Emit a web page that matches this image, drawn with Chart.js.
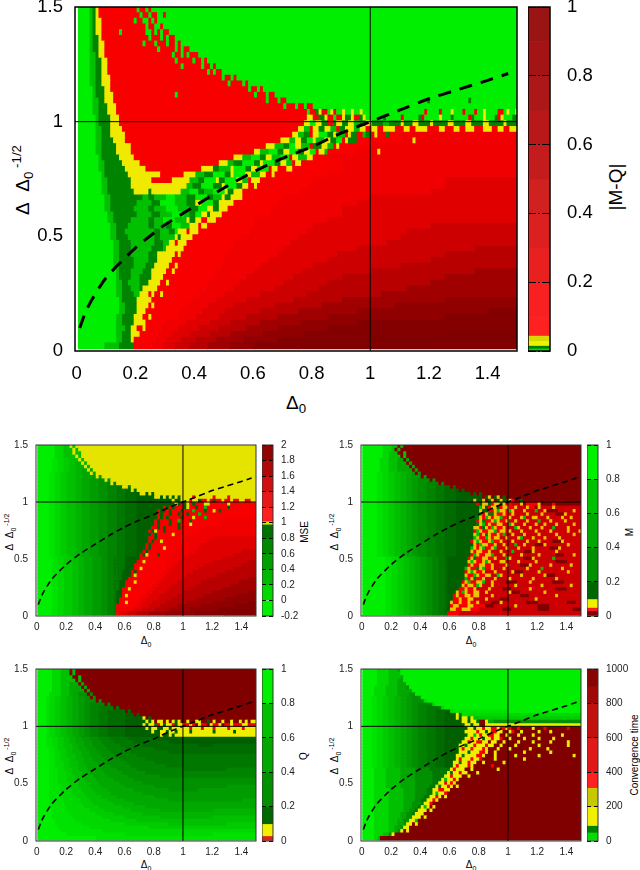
<!DOCTYPE html>
<html>
<head>
<meta charset="utf-8">
<title>Phase diagrams</title>
<script src="https://cdn.jsdelivr.net/npm/chart.js@4"></script>
<style>
    body { margin: 0; background: #fff; width: 640px; height: 870px; overflow: hidden; position: relative; }
    canvas { position: absolute; }
    canvas.soft { filter: blur(0.4px); }
    .lab { position: absolute; font-family: "Liberation Sans", sans-serif; color: #000; white-space: nowrap; transform: translate(-50%, -50%); line-height: 1; }
    .rot { transform: translate(-50%, -50%) rotate(-90deg); }
    .lab sub, .lab sup { font-size: 70%; line-height: 0; }
</style>
</head>
<body>
<div class="lab" style="left:296px;top:402px;font-size:19px">Δ<sub>0</sub></div>
<div class="lab rot" style="left:22px;top:180px;font-size:19px">Δ&nbsp;&nbsp;Δ<sub>0</sub><sup>&nbsp;-1/2</sup></div>
<div class="lab rot" style="left:615px;top:187px;font-size:19px">|M-Q|</div>
<div class="lab" style="left:146px;top:641px;font-size:10px">Δ<sub>0</sub></div>
<div class="lab rot" style="left:10px;top:532px;font-size:10px">Δ&nbsp;&nbsp;Δ<sub>0</sub><sup>&nbsp;-1/2</sup></div>
<div class="lab rot" style="left:305px;top:532px;font-size:10px">MSE</div>
<div class="lab" style="left:471px;top:641px;font-size:10px">Δ<sub>0</sub></div>
<div class="lab rot" style="left:335px;top:532px;font-size:10px">Δ&nbsp;&nbsp;Δ<sub>0</sub><sup>&nbsp;-1/2</sup></div>
<div class="lab rot" style="left:630px;top:532px;font-size:10px">M</div>
<div class="lab" style="left:146px;top:865px;font-size:10px">Δ<sub>0</sub></div>
<div class="lab rot" style="left:10px;top:756px;font-size:10px">Δ&nbsp;&nbsp;Δ<sub>0</sub><sup>&nbsp;-1/2</sup></div>
<div class="lab rot" style="left:304px;top:756px;font-size:10px">Q</div>
<div class="lab" style="left:471px;top:865px;font-size:10px">Δ<sub>0</sub></div>
<div class="lab rot" style="left:335px;top:756px;font-size:10px">Δ&nbsp;&nbsp;Δ<sub>0</sub><sup>&nbsp;-1/2</sup></div>
<div class="lab rot" style="left:635px;top:755px;font-size:10px">Convergence time</div>
<script>
// Axis ticks
const xTicks = [0, 0.2, 0.4, 0.6, 0.8, 1, 1.2, 1.4];
const yTicks = [0, 0.5, 1, 1.5];
const mqBarTicks = [0, 0.2, 0.4, 0.6, 0.8, 1];
const mseBarTicks = [-0.2, 0, 0.2, 0.4, 0.6, 0.8, 1, 1.2, 1.4, 1.6, 1.8, 2];
const timeBarTicks = [0, 200, 400, 600, 800, 1000];

// Dashed curve
const curveX = [0.01, 0.03, 0.05, 0.1, 0.2, 0.3, 0.4, 0.5, 0.6, 0.7, 0.8, 0.9, 1, 1.1, 1.2, 1.3, 1.4, 1.47];
const curveY = [0.1, 0.17, 0.22, 0.32, 0.45, 0.55, 0.63, 0.71, 0.78, 0.84, 0.89, 0.95, 1, 1.05, 1.1, 1.14, 1.18, 1.21];

// Cell classes
const cellColors = {
    G: "#00ee00", p: "#00e300", g: "#00d800", q: "#00cc00", h: "#00c000", s: "#00b400", m: "#00a800", t: "#009c00",
    n: "#009000", u: "#008400", d: "#007800", v: "#006c00", D: "#006000",
    Y: "#eeee00",
    R: "#f80000", a: "#f00000", b: "#e00000", c: "#cc0000", e: "#b80000", f: "#a00000", i: "#900000", j: "#840000", k: "#800000",
};

// Heat maps, one string per row from the top: class letter + column where the run ends
const mqRows = [
    "G4 h5 d6 Y7 R20 G21 R23 G24 R25 G150",
    "G4 h5 d6 Y7 R21 G22 R24 G25 R27 G29 R30 G150",
    "G4 h5 d6 Y8 R19 G20 R22 G24 R25 G26 R27 G150",
    "G4 h5 d6 Y8 R23 G24 R26 G28 R29 G150",
    "G4 h5 d6 Y8 R14 G15 R23 G25 R26 G27 R28 G29 R31 G150",
    "G4 h5 d7 Y8 R24 G25 R28 G29 R30 G31 R33 G150",
    "G4 h5 d7 Y9 R22 G23 R26 G27 R30 G31 R33 G34 R35 G150",
    "G4 h5 d7 Y9 R27 G28 R33 G34 R35 G36 R38 G150",
    "G4 h6 d7 Y9 R32 G33 R35 G36 R37 G38 R41 G150",
    "G4 h6 d8 Y10 R33 G34 R39 G40 R42 G43 R44 G150",
    "G4 h6 d8 Y10 R35 G36 R42 G43 R45 G46 R47 G150",
    "G4 h6 d8 Y10 R44 G45 R46 G47 R49 G150",
    "G4 h6 d8 Y11 R49 G50 R52 G53 R54 G150",
    "G4 h6 d8 Y11 R51 G52 R56 G57 R58 G150",
    "G5 h6 d9 Y11 R58 G59 R61 G62 R63 G150",
    "G5 h6 d9 Y12 R33 G34 R60 G61 R64 G65 R67 G150",
    "G5 h7 d9 Y12 R64 G65 R68 G69 R71 G119 d120 G133 d134 G150",
    "G5 h7 d10 Y13 R70 G71 R74 G75 R77 G78 R80 G150",
    "G5 h7 d10 Y13 R78 G79 R81 d82 Y83 R85 G86 Y87 R88 G90 Y91 G93 Y94 G96 Y97 G118 R119 G123 R124 G127 Y128 G131 R132 G135 R136 G138 Y139 G143 R145 G146 Y147 G149 Y150",
    "G6 h7 d11 Y14 R78 Y80 R82 d84 Y85 R87 G88 R90 Y91 d93 Y94 R96 d97 Y98 G104 d105 G110 R111 G116 d117 R118 G123 Y124 G127 d128 G133 R134 d135 G138 Y139 G142 d143 R144 Y145 G148 d150",
    "G6 h7 d11 Y14 R77 Y79 G81 Y83 d85 R87 d88 Y90 d92 Y94 h96 d98 Y100 d104 h106 d110 Y111 d114 Y116 d120 Y121 d126 Y128 d132 Y134 d138 Y140 d145 Y146 d150",
    "G6 h8 d11 Y15 R75 Y77 h79 R80 Y82 d84 Y86 h88 R89 d91 Y94 h96 Y98 R100 Y102 R104 Y108 R111 Y113 R115 Y119 R123 Y125 R128 Y130 R132 Y135 R138 Y141 R143 Y145 R147 Y150",
    "G6 h8 d11 Y16 R73 Y75 h77 d79 R80 Y82 G85 d87 Y88 h91 R92 Y93 d95 R97 h98 d100 R101 Y102 R105 d106 R110 a150",
    "G6 h8 d12 Y16 R69 Y72 h74 Y76 d78 G80 Y81 h84 Y86 d88 G90 R91 Y92 d95 R110 a114 Y115 a150",
    "G6 h8 d13 Y18 R64 Y67 h70 d72 G74 Y76 h79 R80 d83 Y85 h87 R88 Y89 R100 a150",
    "G6 h8 d13 Y18 R60 Y62 h65 G68 d70 Y72 G75 d77 Y79 G81 R82 Y84 h85 R95 a102 Y103 a150",
    "G7 h8 d14 Y19 R53 Y56 h59 G62 d64 Y66 h69 G72 R73 Y75 h78 Y80 R85 a150",
    "G7 h9 d15 Y21 R48 Y51 h53 d56 G60 d62 Y63 G67 d69 Y71 h73 R74 Y76 R90 a150",
    "G7 h9 d16 Y23 R42 Y46 d48 h52 Y53 G57 d59 Y61 G65 R66 Y68 R71 Y73 R90 a150",
    "G8 h9 d17 Y28 R36 Y40 h43 d46 G50 d52 Y53 G57 Y59 h62 Y64 R66 Y67 R85 a150",
    "G8 h10 d18 Y25 R32 Y38 h41 d43 G47 Y48 d50 G54 Y56 h58 R59 Y62 R80 a125 b150",
    "G8 h10 d18 Y37 h39 d42 G46 d49 Y50 G54 d56 Y58 R60 Y61 R78 a125 b150",
    "G8 h10 d19 Y24 d25 Y35 h38 G41 d43 h46 G50 Y51 d53 Y56 R75 a120 b150",
    "G9 h11 d22 h24 d26 h30 G33 h37 d40 G44 d46 h49 Y50 d52 Y56 R70 a100 b150",
    "G9 h11 d20 h25 d28 G33 h37 d40 Y42 G46 d48 Y53 R68 a95 b150",
    "G9 h11 d19 h24 d26 h30 G34 h38 d41 G44 Y46 d48 Y51 R66 a90 b150",
    "G10 h12 d20 h25 d28 h32 G36 h38 d40 G42 Y44 d45 Y49 R65 a90 b150",
    "G10 h12 d18 h24 d26 h29 G33 h37 Y38 d40 Y42 R44 Y47 R60 a85 b150",
    "G11 h13 d17 h24 d26 h30 d32 G35 h38 Y41 R42 Y44 R60 a80 b120 c150",
    "G11 h13 d16 h26 d28 h31 d33 G34 Y37 R38 Y41 R58 a78 b112 c150",
    "G11 h13 d17 h26 d28 h33 Y34 d35 Y39 R55 a75 b110 c150",
    "G12 h14 d18 h26 d29 h31 Y33 R34 Y37 R53 a72 b105 c150",
    "G12 h14 d18 h25 d29 h30 Y36 R52 a70 b95 c135 e150",
    "G12 h14 d18 h24 d27 Y33 R34 Y35 R51 a68 b88 c125 e150",
    "G12 h14 d19 h24 d27 Y32 R50 a65 b85 c120 e150",
    "G12 h14 d19 h23 d26 Y31 R33 Y34 R49 a62 b80 c110 e150",
    "G13 h14 d18 h22 d25 Y30 R32 Y33 R47 a60 b76 c100 e135 f150",
    "G13 h14 d18 h21 d25 Y29 R46 a57 b73 c90 e125 f150",
    "G13 h15 d17 h21 d24 Y28 R30 Y31 R44 a55 b70 c85 e120 f150",
    "G13 h15 d18 h21 d22 Y27 R43 a53 b67 c82 e112 f150",
    "G13 h15 d19 h21 Y24 R25 Y26 R28 Y29 R41 a50 b62 c78 e103 f150",
    "G14 h15 d20 Y25 R39 a47 b57 c73 e90 f125 i150",
    "G14 h16 d20 Y24 R25 Y26 R37 a44 b53 c67 e83 f108 i150",
    "G14 h16 d20 Y23 R35 a42 b50 c62 e75 f95 i140 j150",
    "G13 h15 d19 Y22 R24 Y25 R34 a40 b48 c57 e68 f85 i125 j150",
    "G13 h15 d19 Y23 R30 a37 b45 c52 e62 f76 i95 j150",
    "G13 h16 d18 Y20 R22 Y23 R28 a34 b41 c48 e57 f68 i85 j150",
    "G13 h15 d18 Y21 R27 a32 b38 c45 e52 f63 i77 j125 k150",
    "G13 h15 d18 Y19 R26 a30 b35 c40 e47 f56 i68 j100 k150",
    "G9 h14 d19 R25 a29 b33 c38 e44 f52 i60 j75 k150",
];

// Shared left part of the green gradient in the small panels
const mseA = "G4 p6 g8 q10 h13 s15 m18 t21 n24 u27 d30 v34";
const mseB = "G5 p7 g9 q12 h14 s16 m19 t22 n24 u26 d27";
const mA = "G5 p7 g9 q11 h13 s15 m17 t19 n22 u25 d28 v32";
const mB = "G8 p10 g12 q14 h16 s18 m20 t22 n24 u26 d28 v29";
const qA = "G3 p4 g6 q8 h10 s12 m14 t16 n18 u21 d24 v30";
const tA = "G3 p5 g7 q9 h11 s13 m15 t17 n19 u22 d25 v28";

const mseRows = [
    "G6 g9 h11 Y12 h13 Y75",
    "G6 g9 h12 Y13 h14 Y75",
    "G6 g9 h12 Y13 h15 Y75",
    "G6 g9 h13 Y14 h15 Y75",
    "G5 p7 g9 q11 h14 Y15 h16 Y75",
    "G5 p7 g9 q11 h13 s15 Y16 s17 Y75",
    "G5 p7 g9 q11 h13 s16 Y17 s18 Y75",
    "G5 p7 g9 q11 h13 s15 m17 Y18 m19 Y75",
    "G4 p6 g8 q10 h13 s15 m18 Y19 m20 Y75",
    "G4 p6 g8 q10 h13 s15 m18 t20 Y21 t22 Y75",
    "G4 p6 g8 q10 h13 s15 m18 t21 n23 Y24 n25 Y75",
    "G4 p6 g8 q10 h13 s15 m18 t21 n24 u25 Y26 u27 Y75",
    "G4 p6 g8 q10 h13 s15 m18 t21 n24 u27 d29 Y31 d32 Y75",
    "G4 p6 g8 q10 h13 s15 m18 t21 n24 u27 d30 v32 Y33 v34 Y75",
    `${mseA} D35 Y37 D38 Y39 D40 Y75`,
    `${mseA} D40 Y42 D43 Y44 D45 Y46 D47 Y48 D49 Y53 R54 Y60 R61 Y65 R66 Y75`,
    `${mseA} D46 Y47 D49 Y52 R53 Y55 D56 R58 Y59 R60 D61 R63 Y64 R66 Y67 R69 Y71 R73 Y75`,
    `${mseA} D47 Y48 D49 R50 D51 Y52 R53 D54 R57 Y59 R65 Y66 R75`,
    `${mseA} D43 R44 D45 R46 D47 R50 D51 Y52 R54 D55 R57 h58 R65 D66 R75`,
    `${mseA} D41 R42 D44 R45 D46 R49 D50 R53 h54 R57 D58 R60 Y61 R62 D63 R75`,
    `${mseA} D41 R42 D43 R45 D46 R48 D49 R51 D52 R55 h56 R75`,
    `${mseA} D41 R42 D43 R44 D45 R49 D50 R53 Y54 R57 h58 R75`,
    `${mseA} D40 R41 D42 R45 D46 R48 h49 R52 D53 R63 a75`,
    `${mseA} D40 R41 D42 R45 D46 R48 D49 R52 Y53 R62 a75`,
    `${mseA} D39 R41 D42 R43 D44 R48 D49 R56 a75`,
    `${mseA} D38 R39 D40 Y41 R43 D44 R55 a75`,
    `${mseA} D39 R40 D41 R46 Y47 R52 a75`,
    `${mseA} D38 R40 D41 R50 a60 b75`,
    `${mseA} D38 R39 D40 R42 Y43 R50 a58 b75`,
    `${mseA} D37 R38 D39 R49 a56 b75`,
    `${mseA} D37 R38 D39 R43 Y44 R48 a55 b75`,
    `${mseA} D36 R37 D38 R47 a54 b70 c75`,
    `${mseA} D35 R36 D37 Y38 R41 D42 R46 a52 b67 c75`,
    `${mseB} d30 D35 R45 a50 b63 c75`,
    `${mseB} d30 D34 R36 Y37 R45 a48 b60 c72 e75`,
    `${mseB} d30 D33 R44 a47 b57 c70 e75`,
    `${mseB} d30 D33 R35 Y36 R44 a46 b55 c67 e75`,
    `${mseB} d29 D32 R33 D34 R43 a45 b53 c64 e75`,
    `${mseB} d29 D32 R33 Y34 R42 a44 b51 c61 e75`,
    `${mseB} d29 D31 R41 a43 b50 c58 e72 f75`,
    `${mseB} d28 D30 R33 Y34 R40 a42 b48 c56 e69 f75`,
    `${mseB} d28 D30 R39 a41 b46 c54 e66 f75`,
    `${mseB} d28 D29 R31 Y32 R38 a40 b45 c52 e63 f75`,
    `${mseB} d27 D29 R37 a39 b44 c50 e60 f72 i75`,
    `${mseB} d27 D29 R30 Y31 R36 a38 b42 c48 e57 f68 i75`,
    `${mseB} d27 D28 R35 a37 b41 c46 e54 f64 i75`,
    `${mseB} d26 D28 R30 Y31 R34 a36 b39 c44 e51 f60 i72 j75`,
    `${mseB} d26 D27 R33 a35 b38 c42 e48 f56 i67 j75`,
    `${mseB} d26 D27 R29 a33 b36 c40 e45 f52 i62 j75`,
    `${mseB} d25 D27 R28 b31 c34 e38 f44 i54 j64 k75`,
];

const mRows = [
    "G7 g10 h12 k13 h14 k75",
    "G7 g10 h11 k12 h13 k75",
    "G7 g9 h12 k14 h15 k75",
    "G7 g9 h13 k14 h15 k75",
    "G6 g9 h12 m14 k15 m16 k75",
    "G6 g9 h12 m15 k16 m17 k75",
    "G6 g9 h12 m16 k17 m18 k75",
    "G6 g9 h12 m17 k18 m19 k75",
    "G5 p7 g9 q11 h13 s15 m17 t18 k19 t20 k75",
    "G5 p7 g9 q11 h13 s15 m17 t20 k21 t22 k75",
    "G5 p7 g9 q11 h13 s15 m17 t19 n23 k24 n25 k75",
    "G5 p7 g9 q11 h13 s15 m17 t19 n22 u26 k27 u28 k75",
    "G5 p7 g9 q11 h13 s15 m17 t19 n22 u25 d28 v30 k31 v32 k75",
    `${mA} D33 k34 D35 k75`,
    `${mA} D37 k38 D39 k40 D41 k75`,
    `${mA} D41 k42 D43 Y44 k45 D46 Y47 k48 D49 k75`,
    `${mA} D38 Y39 D41 Y42 k43 D44 Y45 k46 D47 Y48 D50 Y51 R52 k54 D55 k75`,
    `${mA} D39 R40 D41 Y43 D44 R45 Y47 D48 Y49 R51 c54 Y55 k56 R60 Y61 k65 R66 k75`,
    `${mA} D40 h41 Y42 D43 R44 Y46 D47 R48 Y50 R52 Y53 c56 Y57 R59 k60 Y61 c65 Y66 c75`,
    `${mA} D40 Y41 D43 R45 Y46 h47 Y49 R50 h51 Y52 c55 Y56 c59 h60 c62 Y63 k67 c72 Y73 c75`,
    `${mA} D40 h41 R42 Y43 d45 Y46 R48 Y49 R51 Y52 c56 Y57 c61 Y62 c66 k69 Y70 c75`,
    `${mA} D39 d40 Y41 R42 h43 Y44 R45 Y47 h48 R50 Y51 c54 Y55 h56 c58 Y60 c63 Y64 c68 Y69 c71 Y72 c75`,
    `${mA} D39 R40 Y41 d42 R44 Y45 h46 Y47 R49 Y50 c52 Y53 c56 Y57 c60 h61 c64 Y65 c69 Y70 c75`,
    `${mA} D39 d40 Y41 h42 R43 Y44 R46 Y48 c50 h51 Y52 c55 Y56 c59 Y60 c62 Y63 c66 Y67 c72 Y73 c75`,
    `${mA} D38 Y40 R41 d42 Y43 R44 h45 Y46 R48 Y49 c52 h53 Y54 c57 Y58 c61 Y62 c65 h66 c70 Y71 c75`,
    `${mA} D38 R39 h40 Y41 R43 Y45 h46 R47 Y49 c50 Y51 c54 Y55 c59 Y60 c64 Y65 c70 Y71 c74 Y75`,
    `${mA} D38 Y39 h40 R41 Y42 d43 Y44 R46 Y47 R48 h49 c51 Y52 c55 Y56 c60 Y61 c66 Y67 c72 Y73 c75`,
    `${mA} D38 h39 Y40 R42 h43 Y44 R45 Y47 c49 Y50 c53 Y54 h55 c58 Y59 c62 Y63 c67 Y68 c75`,
    `${mA} D37 R38 Y39 h40 Y41 R43 Y44 h45 R47 Y48 c51 Y52 c56 Y57 c60 Y61 c65 k68 Y69 c75`,
    `${mA} D38 Y39 R40 h41 Y43 R45 Y46 c48 Y49 c52 h53 c55 Y56 c59 k62 Y63 c70 Y71 c75`,
    `${mA} D37 h38 Y39 R40 Y41 h42 R44 Y45 h46 c49 Y50 c53 Y54 c58 Y59 c64 k67 Y68 c75`,
    `${mA} D37 Y38 R39 Y41 R43 Y44 c47 Y48 c51 h52 c55 k58 Y59 c66 Y67 c75`,
    `${mA} D37 R38 h39 Y40 R42 Y44 h45 c48 Y49 c54 Y55 c60 Y61 c66 k69 c72 Y73 c75`,
    `${mB} D36 R37 Y38 d39 R41 Y43 R45 Y46 c49 h50 Y51 c55 k58 Y59 c65 h66 c75`,
    `${mB} D36 Y37 h38 Y39 R41 Y42 h43 Y44 c47 Y49 c53 Y54 c59 Y60 c66 k70 c75`,
    `${mB} D36 R37 Y38 R40 Y42 R44 Y45 c49 Y50 c54 k57 Y58 c64 Y65 c71 Y72 c75`,
    `${mB} D35 h36 Y37 R39 d40 Y41 h42 R44 Y45 c48 Y49 c56 Y57 c61 h62 c68 Y69 c75`,
    `${mB} D35 R36 Y37 h38 Y39 R41 Y42 c45 Y46 c51 Y52 k55 c60 Y61 c70 Y71 c75`,
    `${mB} D35 Y36 R38 h39 Y40 R42 Y44 c46 h47 Y48 c54 Y55 c62 Y63 k66 c75`,
    `${mB} D35 h36 R37 Y38 d39 R41 Y42 c45 Y46 c50 Y51 c58 Y59 c66 Y67 c75`,
    `${mB} D34 R35 Y36 h37 R39 Y41 h42 c44 Y45 c49 k53 c57 Y58 c65 k69 c75`,
    `${mB} D34 Y35 R36 Y38 R39 h40 Y41 c44 Y45 c52 Y53 c61 Y62 c71 Y72 c75`,
    `${mB} D33 R35 Y36 R38 Y39 c43 Y44 c48 k51 c57 Y58 c66 k70 c75`,
    `${mB} D32 Y33 R34 h35 Y36 R38 Y40 c42 Y43 c50 Y51 k54 c62 Y63 c75`,
    `${mB} D31 R32 Y33 R35 Y37 R38 Y40 c44 Y45 c54 k57 c66 Y67 c75`,
    `${mB} D31 R33 Y34 R36 Y38 c42 Y43 c47 k50 c59 Y60 c75`,
    `${mB} D30 Y31 R33 Y34 R36 Y37 R39 Y40 c44 k47 Y48 c56 k60 c70 k73 c75`,
    `${mB} D30 R31 Y33 R36 Y38 R42 k45 c52 Y53 c60 k64 c75`,
    `${mB} D30 Y32 R34 Y37 R40 c48 k51 c60 k64 c72 k75`,
    `${mB} D29 R33 c75`,
];

const qRows = [
    "G5 g8 h11 k12 h13 k75",
    "G5 g8 h11 k12 h13 k75",
    "G5 g8 h12 k14 h15 k75",
    "G5 g8 h13 k14 h15 k75",
    "G5 g8 h11 m14 k15 m16 k75",
    "G5 g8 h11 m15 k16 m17 k75",
    "G5 g8 h11 m16 k17 m18 k75",
    "G4 g8 h11 m14 n17 k18 n19 k75",
    "G3 p4 g6 q8 h10 s12 m14 t16 n18 k19 n20 k75",
    "G3 p4 g6 q8 h10 s12 m14 t16 n20 k21 n22 k75",
    "G3 p4 g6 q8 h10 s12 m14 t16 n18 u23 k24 u25 k75",
    "G3 p4 g6 q8 h10 s12 m14 t16 n18 u21 d26 k27 d28 k75",
    `${qA} k31 v32 k75`,
    `${qA} D33 k34 D35 k75`,
    `${qA} D36 Y37 k38 D39 k75`,
    `${qA} D37 Y38 D39 Y40 k41 Y43 k44 Y45 k46 Y47 D48 Y49 k51 Y52 k54 Y56 k58 D59 k60 Y61 k63 Y64 k66 Y67 k69 Y70 k71 Y72 k73 Y75`,
    `${qA} D36 Y37 D38 Y40 d41 R42 Y43 D44 Y46 R47 D48 Y50 R52 Y53 R54 k55 Y56 R58 k59 Y60 R62 Y63 k64 R66 Y67 R70 Y72 R75`,
    `${qA} D37 Y38 D39 Y41 D43 Y45 D46 Y52 R53 Y56 R57 Y60 R61 Y65 R66 Y70 R71 Y75`,
    `${qA} D39 Y40 D42 Y44 D45 Y47 D48 Y52 D53 Y60 D61 Y67 D68 Y75`,
    `${qA} D42 Y43 D45 Y46 D47 Y75`,
    "G3 p5 g7 q9 h11 s13 m15 t18 n21 u25 d31 v40 D75",
    "G3 p5 g7 q9 h11 s13 m16 t19 n22 u26 d33 v45 D75",
    "G3 p5 g7 q9 h12 s14 m16 t19 n23 u28 d36 v55 D60 v75",
    "G4 p6 g7 q10 h12 s14 m17 t20 n24 u30 d40 v75",
    "G4 p6 g8 q10 h12 s15 m18 t21 n25 u32 d45 v75",
    "G4 p6 g8 q10 h13 s15 m18 t22 n26 u34 d75",
    "G4 p6 g8 q11 h13 s16 m19 t23 n28 u37 d75",
    "G4 p6 g9 q11 h14 s16 m20 t24 n30 u40 d75",
    "G4 p6 g9 q11 h14 s17 m21 t25 n32 u44 d75",
    "G4 p7 g9 q12 h14 s17 m22 t27 n34 u50 d65 u75",
    "G4 p7 g10 q12 h15 s18 m23 t29 n37 u75",
    "G4 p7 g10 q13 h15 s19 m24 t31 n42 u75",
    "G4 p7 g10 q13 h16 s20 m26 t33 n75",
    "G4 p7 g11 q14 h17 s21 m28 t36 n75",
    "G4 p8 g11 q14 h18 s22 m30 t40 n65 t75",
    "G4 p8 g12 q15 h19 s24 m33 t45 n55 t75",
    "G4 p8 g12 q16 h20 s25 m36 t75",
    "G4 p8 g13 q17 h22 s27 m40 t75",
    "G4 p9 g14 q18 h24 s30 m45 t70 m75",
    "G4 p9 g15 q19 h26 s33 m75",
    "G4 p10 g16 q21 h29 s37 m75",
    "G5 p10 g18 q23 h32 s42 m60 s75",
    "G5 p11 g20 q26 h36 s75",
    "G5 p12 g22 q30 h42 s60 h75",
    "G6 p13 g25 q34 h75",
    "G6 p15 g30 q45 h65 q75",
    "G7 p18 g38 q75",
    "G8 p22 g75",
    "G10 p30 g60 p75",
    "G20 p75",
];

const timeRows = [
    "G5 g9 h12 m13 G75",
    "G5 g9 h13 G75",
    "G5 g9 h13 m14 G75",
    "G5 g9 h12 m14 G75",
    "G5 g9 h12 m15 G75",
    "G4 g8 h12 m15 n16 G75",
    "G4 g8 h12 m17 G75",
    "G4 g8 h12 m16 n18 G75",
    "G3 p5 g7 q9 h11 s13 m15 t17 n20 G75",
    "G3 p5 g7 q9 h11 s13 m15 t17 n21 g22 G75",
    "G3 p5 g7 q9 h11 s13 m15 t17 n19 u24 g25 G75",
    "G3 p5 g7 q9 h11 s13 m15 t17 n19 u22 d27 g28 G75",
    `${tA} D30 g31 p50 G75`,
    `${tA} D32 Y33 d34 p36 g75`,
    `${tA} D32 Y33 D34 Y36 d37 Y38 h40 q75`,
    `${tA} D34 Y36 D37 Y39 d40 k42 Y43 m45 n75`,
    `${tA} D35 Y37 D38 Y40 k42 Y75`,
    `${tA} D36 Y38 D39 Y41 R42 Y44 R46 Y47 R49 Y50 R51 k53 R54 k58 Y59 k62 R63 k70 R71 k75`,
    `${tA} D35 Y39 R40 Y42 D43 Y44 R46 Y48 k50 Y51 R52 k54 Y55 k60 Y61 k64 Y65 k75`,
    `${tA} D36 Y38 h39 Y40 R41 Y43 R45 Y47 k49 Y50 k53 Y54 k58 Y59 k68 Y69 k75`,
    `${tA} D35 Y37 R38 Y41 D42 Y44 R45 Y47 R48 k50 Y51 k55 Y56 k60 Y61 k65 Y66 k75`,
    `${tA} D34 Y36 R37 Y39 R41 Y43 k44 Y46 k48 Y49 k53 Y54 k58 Y59 k64 Y65 k70 Y71 k75`,
    `${tA} D33 Y35 d36 Y38 R39 Y42 R43 Y45 k47 Y48 k52 Y53 k60 Y61 k70 Y71 k75`,
    `${tA} D33 Y34 R35 Y37 R38 Y41 R42 Y43 k46 Y47 k50 Y51 k57 Y58 k63 Y64 k75`,
    `${tA} D33 Y36 D37 Y40 R42 Y43 k45 Y46 k55 Y56 k64 Y65 k75`,
    `${tA} D32 Y34 d35 Y39 R41 Y42 k45 Y46 k52 Y53 k60 Y61 k72 Y73 k75`,
    `${tA} D32 Y33 R34 Y37 R38 Y40 R41 k45 Y46 k55 Y56 k75`,
    `${tA} D31 Y33 d34 Y36 R37 Y39 k41 Y42 k48 Y49 k75`,
    `${tA} D31 Y32 R33 Y36 R37 Y38 k44 R45 k75`,
    "G4 g8 h13 m18 n23 d30 Y31 R32 Y35 k37 Y38 k46 Y47 k75",
    "G4 g8 h13 m18 n24 d29 Y30 d31 Y33 R34 Y36 k39 Y40 k75",
    "G4 g8 h13 m18 n24 d28 Y30 R31 Y34 k36 Y37 k75",
    "G4 g8 h13 m18 n24 d27 Y28 h29 Y31 R32 Y33 k75",
    "G4 g8 h13 m18 n24 d26 Y28 R29 Y30 R31 Y32 k75",
    "G4 g8 h13 m18 n23 d25 Y26 d27 Y29 R30 Y31 k32 Y33 k75",
    "G4 g9 h14 m18 n22 d24 Y26 R28 Y30 k75",
    "G4 g9 h14 m18 n22 d24 Y25 h26 Y28 R29 k75",
    "G4 g9 h14 m18 n21 d23 Y25 R26 Y27 k28 Y29 k75",
    "G4 g9 h14 m18 n20 d22 Y24 R25 Y26 k75",
    "G4 g9 h14 m17 n20 d21 Y23 R24 k75",
    "G4 g9 h14 m17 n19 d20 Y21 h22 Y23 k24 Y25 k75",
    "G4 g9 h14 m16 n18 d19 Y22 k23 Y24 k75",
    "G4 g9 h13 m15 n17 d18 Y21 k75",
    "G4 g9 h13 m15 n17 Y20 k21 Y22 k75",
    "G4 g9 h12 m14 n16 Y18 h19 k75",
    "G4 g9 h12 m14 n15 Y17 k18 Y19 k75",
    "G4 g9 h11 m13 n14 Y16 k75",
    "G4 g9 h11 m12 n13 Y14 k15 Y16 k75",
    "G4 g7 h9 n10 Y11 k75",
    "G4 g5 h6 k75",
];

// Colour bars: [low, high, colour]
const mqBar = [
    [0, 0.008, "#00e000"], [0.008, 0.016, "#008000"], [0.016, 0.03, "#f0f000"], [0.03, 0.045, "#d8d800"],
    [0.045, 0.1, "#ff2020"], [0.1, 0.2, "#f82020"], [0.2, 0.3, "#e82020"], [0.3, 0.4, "#dc2020"], [0.4, 0.5, "#d02020"],
    [0.5, 0.6, "#c41c1c"], [0.6, 0.7, "#b81818"], [0.7, 0.8, "#ac1818"], [0.8, 0.9, "#a41414"], [0.9, 1, "#9a1414"],
];
const mseBar = [
    [-0.2, 0, "#00f000"], [0, 0.2, "#00d800"], [0.2, 0.4, "#00b800"], [0.4, 0.6, "#00a000"], [0.6, 0.8, "#008800"], [0.8, 0.98, "#007000"],
    [0.98, 1.02, "#e0e000"],
    [1.02, 1.2, "#ff2020"], [1.2, 1.4, "#e81818"], [1.4, 1.6, "#d01010"], [1.6, 1.8, "#b00808"], [1.8, 2, "#900404"],
];
const mBar = [
    [0, 0.03, "#800000"], [0.03, 0.05, "#f02020"], [0.05, 0.1, "#f0f000"],
    [0.1, 0.2, "#006800"], [0.2, 0.4, "#009000"], [0.4, 0.6, "#00a800"], [0.6, 0.8, "#00c000"], [0.8, 1, "#00f000"],
];
const qBar = [
    [0, 0.03, "#e02020"], [0.03, 0.1, "#f0f000"],
    [0.1, 0.2, "#006800"], [0.2, 0.4, "#009000"], [0.4, 0.6, "#00a800"], [0.6, 0.8, "#00c000"], [0.8, 1, "#00f000"],
];
const timeBar = [
    [0, 50, "#00e000"], [50, 90, "#008000"], [90, 200, "#f0f000"], [200, 310, "#c8c800"],
    [310, 400, "#ff2020"], [400, 600, "#e01818"], [600, 800, "#c01010"], [800, 900, "#a00808"], [900, 1000, "#880404"],
];

const X_MIN = -0.006, X_MAX = 1.5, Y_MAX = 1.5;
const FONT = "'Liberation Sans', sans-serif";

Chart.defaults.animation = false;
Chart.defaults.plugins.legend.display = false;
Chart.defaults.plugins.tooltip.enabled = false;
Chart.defaults.font.family = FONT;

const framePlugin = {
    id: "frame",
    afterDraw(chart, args, opts) {
        let a = chart.chartArea, ctx = chart.ctx;
        ctx.save();
        ctx.strokeStyle = opts.color;
        ctx.lineWidth = opts.width;
        ctx.strokeRect(a.left, a.top, a.width, a.height);
        ctx.restore();
    },
};

function addCanvas(left, top, width, height, soft) {
    let canvas = document.createElement("canvas");
    canvas.width = width;
    canvas.height = height;
    canvas.style.left = left + "px";
    canvas.style.top = top + "px";
    if (soft) canvas.className = "soft";
    document.body.appendChild(canvas);
    return canvas;
}

// The scale's label overhang would otherwise move the plot edges
function noOverhang(s) {
    s.paddingTop = s.paddingBottom = s.paddingLeft = s.paddingRight = 0;
}

// Expand run strings into floating bars
function rowsToBars(rows, colStep, palette) {
    let rowStep = (Y_MAX - 0.01) / rows.length;
    let data = [], colors = [];
    rows.forEach((row, r) => {
        let prev = 0;
        let y = Y_MAX - (r + 0.5) * rowStep;
        row.split(" ").forEach(token => {
            let end = parseInt(token.slice(1));
            if (end > prev) {
                data.push({x: [0.005 + prev * colStep, 0.005 + end * colStep], y: y});
                colors.push(palette[token[0]]);
                prev = end;
            }
        });
    });
    return {data, colors};
}

function heatPanel(p) {
    let canvas = addCanvas(p.left, p.top, p.width, p.height, p.soft);
    let bars = rowsToBars(p.rows, p.colStep, {...cellColors, ...p.colors});
    let curve = curveX.map((x, i) => ({x: x, y: curveY[i]}));
    let fmt = v => String(v);
    new Chart(canvas, {
        type: "bar",
        data: {
            datasets: [
                {type: "line", order: 0, data: curve, borderColor: "#000", borderWidth: p.curveWidth, borderDash: p.dash, pointRadius: 0, tension: 0.2},
                {type: "line", order: 0, data: [{x: 1, y: 0}, {x: 1, y: Y_MAX}], borderColor: "#000", borderWidth: 1, pointRadius: 0},
                {type: "line", order: 0, data: [{x: X_MIN, y: 1}, {x: X_MAX, y: 1}], borderColor: "#000", borderWidth: 1, pointRadius: 0},
                {type: "bar", order: 1, indexAxis: "y", data: bars.data, backgroundColor: bars.colors, barThickness: p.cellH, inflateAmount: 0.3, borderWidth: 0},
            ],
        },
        options: {
            responsive: false,
            devicePixelRatio: 1,
            layout: {autoPadding: false, padding: {top: p.padTop, right: p.padRight}},
            plugins: {frame: {color: p.frameColor, width: p.frameWidth}},
            scales: {
                x: {
                    type: "linear", min: X_MIN, max: X_MAX, offset: false,
                    grid: {display: false, offset: false, drawTicks: false}, border: {display: false},
                    afterBuildTicks: s => { s.ticks = xTicks.map(v => ({value: v})); },
                    afterFit: s => { s.height = p.xAxisH; noOverhang(s); },
                    ticks: {font: {size: p.fontSize}, color: p.textColor, padding: p.xPad, maxRotation: 0, autoSkip: false, callback: fmt},
                },
                y: {
                    type: "linear", min: 0, max: Y_MAX, offset: false,
                    grid: {display: false, offset: false, drawTicks: false}, border: {display: false},
                    afterBuildTicks: s => { s.ticks = yTicks.map(v => ({value: v})); },
                    afterFit: s => { s.width = p.yAxisW; noOverhang(s); },
                    ticks: {font: {size: p.fontSize}, color: p.textColor, padding: p.yPad, autoSkip: false, callback: fmt},
                },
            },
        },
        plugins: [framePlugin],
    });
}

function colorBar(p) {
    let canvas = addCanvas(p.left, p.top, p.width, p.height, p.soft);
    new Chart(canvas, {
        type: "bar",
        data: {
            datasets: [{
                data: p.stops.map(s => ({x: 0, y: [s[0], s[1]]})),
                backgroundColor: p.stops.map(s => s[2]),
                barThickness: p.barW,
                inflateAmount: 0.3,
            }],
        },
        options: {
            responsive: false,
            devicePixelRatio: 1,
            layout: {autoPadding: false, padding: {top: p.padTop, bottom: p.padBottom}},
            plugins: {frame: {color: p.frameColor, width: p.frameWidth}},
            scales: {
                x: {type: "linear", min: -1, max: 1, display: false, offset: false},
                y: {
                    type: "linear", position: "right", min: p.min, max: p.max,
                    grid: {color: "#000", z: 1, drawTicks: false},
                    border: {display: false, dash: p.tickDash},
                    afterBuildTicks: s => { s.ticks = p.ticks.map(v => ({value: v})); },
                    afterFit: s => { s.width = p.width - p.barW; noOverhang(s); },
                    ticks: {font: {size: p.fontSize}, color: p.textColor, padding: p.pad, autoSkip: false, callback: v => String(v)},
                },
            },
        },
        plugins: [framePlugin],
    });
}

// Large panel
heatPanel({
    rows: mqRows, colStep: 0.01, cellH: 6.2, colors: {d: "#008400", Y: "#f0ea00"},
    left: 0, top: 0, width: 522, height: 400,
    padTop: 7, padRight: 5, xAxisH: 49, yAxisW: 75,
    fontSize: 18.5, textColor: "#000", xPad: 12, yPad: 12,
    curveWidth: 3, dash: [13, 9], frameColor: "#000", frameWidth: 1.5,
});
colorBar({
    stops: mqBar, ticks: mqBarTicks, min: 0, max: 1,
    left: 528, top: 0, width: 72, height: 365, barW: 22, padTop: 7, padBottom: 14,
    fontSize: 18.5, textColor: "#000", pad: 17, tickDash: [8, 2, 2, 2, 8], frameColor: "#000", frameWidth: 1.5,
});

// Small panels
const smallPanel = {
    soft: true, colStep: 0.02, cellH: 3.9, width: 260,
    padTop: 15, padRight: 4, xAxisH: 19, yAxisW: 36,
    fontSize: 10, textColor: "#222", xPad: 5, yPad: 8,
    curveWidth: 1.6, dash: [6, 4], frameColor: "#333", frameWidth: 1,
};
const smallBar = {soft: true, width: 46, barW: 11, padTop: 15, fontSize: 10, textColor: "#222", pad: 8, tickDash: [4, 3, 4], frameColor: "#333", frameWidth: 1};

heatPanel({...smallPanel, rows: mseRows, colors: {Y: "#e4e400"}, left: 0, top: 430, height: 205});
colorBar({...smallBar, stops: mseBar, ticks: mseBarTicks, min: -0.2, max: 2, left: 262, top: 430, height: 195, padBottom: 9});

heatPanel({...smallPanel, rows: mRows, colors: {Y: "#ecc400"}, left: 325, top: 430, height: 205});
colorBar({...smallBar, stops: mBar, ticks: mqBarTicks, min: 0, max: 1, left: 587, top: 430, height: 195, padBottom: 9});

heatPanel({...smallPanel, rows: qRows, left: 0, top: 654, height: 206});
colorBar({...smallBar, stops: qBar, ticks: mqBarTicks, min: 0, max: 1, left: 262, top: 654, height: 196, padBottom: 9});

heatPanel({...smallPanel, rows: timeRows, left: 325, top: 654, height: 206});
colorBar({...smallBar, stops: timeBar, ticks: timeBarTicks, min: 0, max: 1000, left: 587, top: 654, height: 196, padBottom: 9});
</script>
</body>
</html>
